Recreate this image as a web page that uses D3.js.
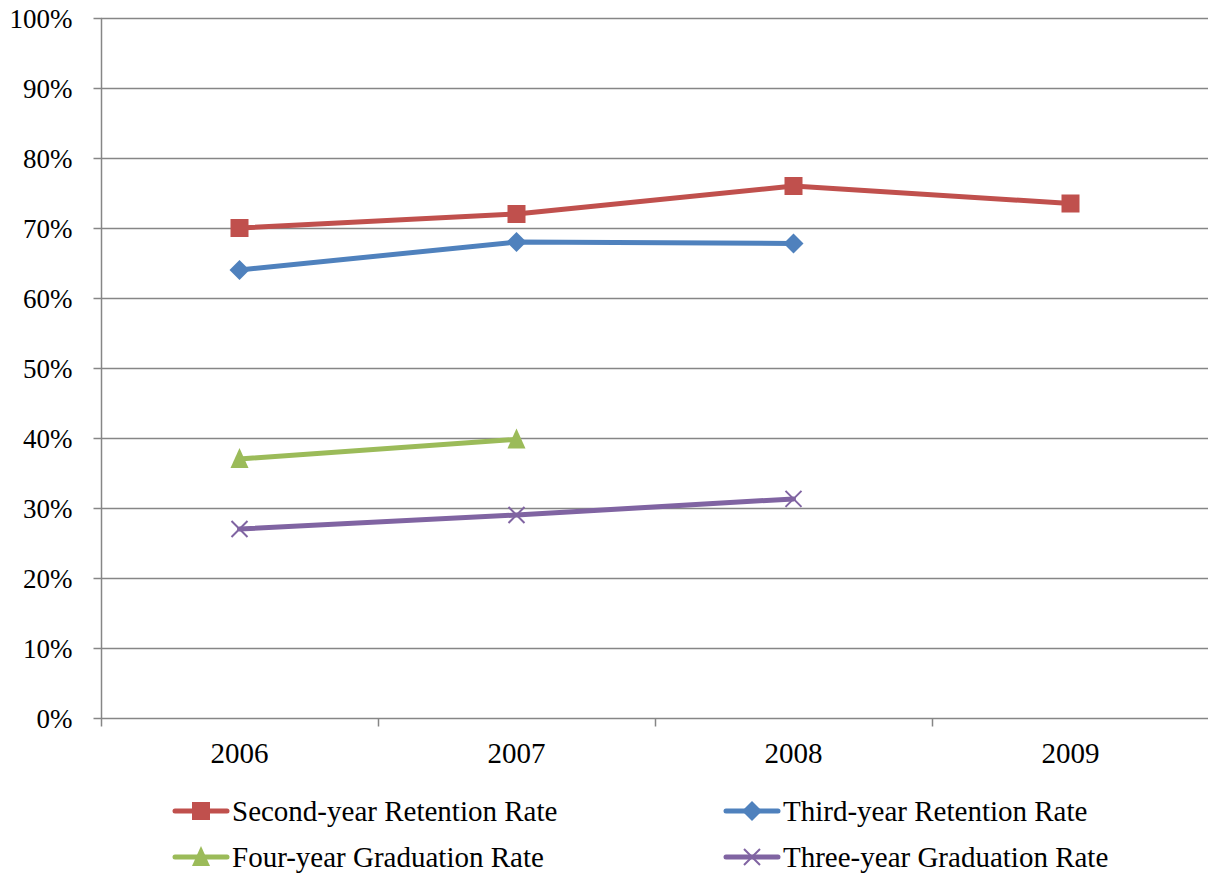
<!DOCTYPE html>
<html>
<head>
<meta charset="utf-8">
<script src="https://cdn.jsdelivr.net/npm/d3@7"></script>
<style>
  html, body { margin: 0; padding: 0; background: #fff; }
  svg { display: block; }
  svg text { font-family: "Liberation Serif", "Times New Roman", serif !important; fill: #000; }
</style>
</head>
<body>
<svg id="chart" width="1208" height="875"></svg>
<script>
const years = ["2006", "2007", "2008", "2009"];
const secondYearRetention = [70, 72, 76, 73.5];
const thirdYearRetention = [64, 68, 67.8, null];
const fourYearGraduation = [37, 39.8, null, null];
const threeYearGraduation = [27, 29, 31.3, null];
const yTicks = [0, 10, 20, 30, 40, 50, 60, 70, 80, 90, 100];

const series = [
  { name: "Second-year Retention Rate", values: secondYearRetention, color: "#C0504D", marker: "square" },
  { name: "Third-year Retention Rate", values: thirdYearRetention, color: "#4F81BD", marker: "diamond" },
  { name: "Four-year Graduation Rate", values: fourYearGraduation, color: "#9BBB59", marker: "triangle" },
  { name: "Three-year Graduation Rate", values: threeYearGraduation, color: "#8064A2", marker: "cross" }
];

const svg = d3.select("#chart");
const plotLeft = 101, plotRight = 1209, plotTop = 18, plotBottom = 718;
const yFontSize = 27, xFontSize = 29, legendFontSize = 29;

const x = d3.scaleBand().domain(years).range([plotLeft, plotRight]);
const y = d3.scaleLinear().domain([0, 100]).range([plotBottom, plotTop]);
const cx = d => x(d) + x.bandwidth() / 2;

// horizontal gridlines
svg.append("g").selectAll("line").data(yTicks.filter(t => t > 0)).join("line")
  .attr("x1", plotLeft).attr("x2", plotRight)
  .attr("y1", d => y(d) + 0.5).attr("y2", d => y(d) + 0.5)
  .attr("stroke", "#868686").attr("stroke-width", 1.5);

// y axis
const yAxis = svg.append("g").attr("transform", `translate(${plotLeft + 0.5},0)`)
  .call(d3.axisLeft(y).tickValues(yTicks).tickSize(8).tickPadding(21).tickFormat(d => d + "%"));
yAxis.attr("font-family", null).attr("font-size", null);
yAxis.select(".domain").attr("stroke", "#868686").attr("stroke-width", 1.5).attr("d", `M0,${plotTop}V${plotBottom}`);
yAxis.selectAll(".tick line").attr("stroke", "#868686").attr("stroke-width", 1.5);
yAxis.selectAll(".tick text").style("font-size", yFontSize + "px").attr("fill", "#000").attr("dy", "0.34em");

// x axis with ticks at category boundaries
const xg = svg.append("g").attr("transform", `translate(0,${plotBottom + 0.5})`);
xg.append("line").attr("x1", plotLeft).attr("x2", plotRight).attr("stroke", "#868686").attr("stroke-width", 1.5);
const bounds = years.map(d => x(d)).concat([plotRight]);
xg.selectAll("line.tk").data(bounds).join("line").attr("class", "tk")
  .attr("x1", d => d + 0.5).attr("x2", d => d + 0.5).attr("y1", 0).attr("y2", 8)
  .attr("stroke", "#868686").attr("stroke-width", 1.5);
xg.selectAll("text").data(years).join("text")
  .attr("x", d => cx(d)).attr("y", 44.5).attr("text-anchor", "middle")
  .style("font-size", xFontSize + "px").text(d => d);

function drawMarker(g, type, px, py, color) {
  if (type === "square") {
    g.append("rect").attr("x", px - 9).attr("y", py - 9).attr("width", 18).attr("height", 18).attr("fill", color);
  } else if (type === "diamond") {
    g.append("path").attr("d", `M${px},${py - 10}L${px + 10},${py}L${px},${py + 10}L${px - 10},${py}Z`).attr("fill", color);
  } else if (type === "triangle") {
    g.append("path").attr("d", `M${px},${py - 11}L${px + 9},${py + 9}L${px - 9},${py + 9}Z`).attr("fill", color);
  } else if (type === "cross") {
    g.append("path").attr("d", `M${px - 8},${py - 8}L${px + 8},${py + 8}M${px - 8},${py + 8}L${px + 8},${py - 8}`)
      .attr("stroke", color).attr("stroke-width", 2).attr("fill", "none");
  }
}

const line = d3.line().defined(d => d.v != null).x(d => cx(d.year)).y(d => y(d.v));

series.forEach(s => {
  const pts = years.map((yr, i) => ({ year: yr, v: s.values[i] }));
  const g = svg.append("g");
  g.append("path").datum(pts).attr("d", line).attr("fill", "none")
    .attr("stroke", s.color).attr("stroke-width", 5).attr("stroke-linejoin", "round").attr("stroke-linecap", "round");
  pts.filter(p => p.v != null).forEach(p => drawMarker(g, s.marker, cx(p.year), y(p.v), s.color));
});

// legend
const legendPos = [[173, 811], [724, 811], [173, 857], [724, 857]];
series.forEach((s, i) => {
  const [lx, ly] = legendPos[i];
  const g = svg.append("g");
  g.append("line").attr("x1", lx + 2).attr("x2", lx + 54).attr("y1", ly).attr("y2", ly)
    .attr("stroke", s.color).attr("stroke-width", 5).attr("stroke-linecap", "round");
  drawMarker(g, s.marker, lx + 28, ly, s.color);
  g.append("text").attr("x", lx + 59).attr("y", ly + 10)
    .style("font-size", legendFontSize + "px").text(s.name);
});
</script>
</body>
</html>
